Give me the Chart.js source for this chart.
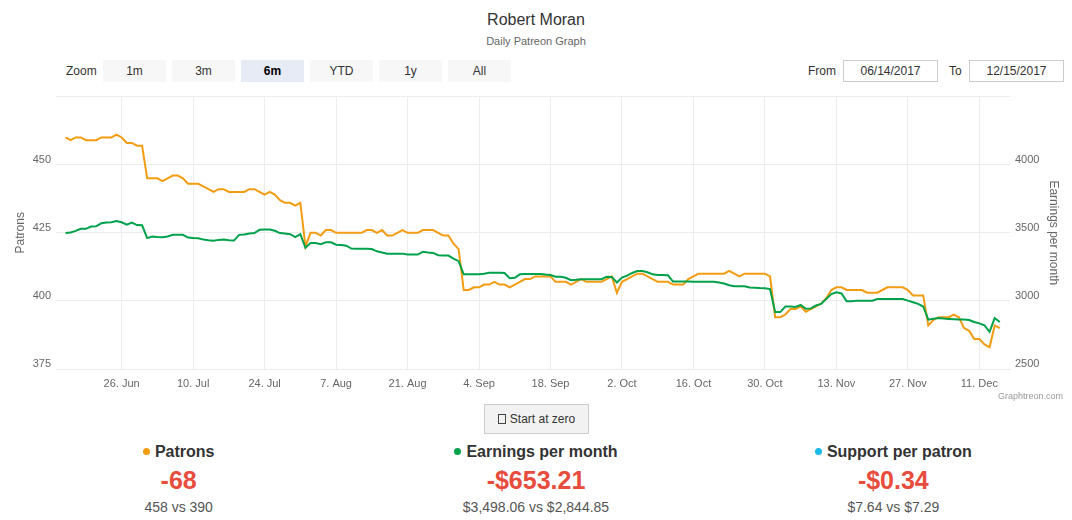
<!DOCTYPE html>
<html>
<head>
<meta charset="utf-8">
<script src="https://cdn.jsdelivr.net/npm/chart.js"></script>
<style>
  body { margin: 0; width: 1072px; height: 520px; background: #fff; font-family: 'Liberation Sans', Arial, sans-serif; position: relative; overflow: hidden; }
  .abs { position: absolute; }
  #title { left: 0; width: 1072px; top: 10px; line-height: 20px; text-align: center; font-size: 16px; color: #333; }
  #subtitle { left: 0; width: 1072px; top: 33px; line-height: 16px; text-align: center; font-size: 11px; color: #666; }
  .lbl { top: 60px; line-height: 22px; font-size: 12px; color: #333; }
  .btn { top: 60px; width: 63px; height: 22px; line-height: 22px; text-align: center; font-size: 12px; color: #333; background: #f7f7f7; }
  .btn.sel { background: #e6ebf5; font-weight: bold; color: #000; }
  .inp { top: 60px; width: 93px; height: 20px; line-height: 20px; border: 1px solid #ccc; text-align: center; font-size: 12px; color: #333; }
  #wrap { left: 0; top: 85px; width: 1072px; height: 315px; }
  #credit { left: 990px; width: 73px; top: 390px; line-height: 12px; text-align: right; font-size: 9px; color: #999; }
  #zero { left: 484px; top: 404px; width: 103px; height: 28px; line-height: 28px; border: 1px solid #ccc; background: #f2f2f2; text-align: center; font-size: 12px; color: #333; }
  #zero i { display: inline-block; width: 6px; height: 8px; border: 1px solid #444; vertical-align: -1px; margin-right: 4px; }
  .col { width: 357.33px; text-align: center; }
  .head { top: 442px; line-height: 20px; font-size: 16px; font-weight: bold; color: #333; }
  .head b { display: inline-block; width: 7px; height: 7px; border-radius: 50%; margin-right: 5px; vertical-align: 2px; }
  .big { top: 465px; line-height: 30px; font-size: 25px; font-weight: bold; color: #e74c3c; }
  .sub { top: 497px; line-height: 20px; font-size: 14px; color: #555; }
</style>
</head>
<body>
<div id="title" class="abs">Robert Moran</div>
<div id="subtitle" class="abs">Daily Patreon Graph</div>

<div class="abs lbl" style="left:66px">Zoom</div>
<div class="abs btn" style="left:103px">1m</div>
<div class="abs btn" style="left:172px">3m</div>
<div class="abs btn sel" style="left:241px">6m</div>
<div class="abs btn" style="left:310px">YTD</div>
<div class="abs btn" style="left:379px">1y</div>
<div class="abs btn" style="left:448px">All</div>
<div class="abs lbl" style="left:808px">From</div>
<div class="abs inp" style="left:843px">06/14/2017</div>
<div class="abs lbl" style="left:949px">To</div>
<div class="abs inp" style="left:969px">12/15/2017</div>

<div id="wrap" class="abs"><canvas id="chart"></canvas></div>
<div id="credit" class="abs">Graphtreon.com</div>
<div id="zero" class="abs"><i></i>Start at zero</div>

<div class="abs col head" style="left:0px"><b style="background:#f39c12"></b>Patrons</div>
<div class="abs col big" style="left:0px">-68</div>
<div class="abs col sub" style="left:0px">458 vs 390</div>
<div class="abs col head" style="left:357.33px"><b style="background:#00a14b"></b>Earnings per month</div>
<div class="abs col big" style="left:357.33px">-$653.21</div>
<div class="abs col sub" style="left:357.33px">$3,498.06 vs $2,844.85</div>
<div class="abs col head" style="left:714.67px"><b style="background:#1ab9e9"></b>Support per patron</div>
<div class="abs col big" style="left:714.67px">-$0.34</div>
<div class="abs col sub" style="left:714.67px">$7.64 vs $7.29</div>

<script>
// days counted from 14 Jun 2017; first data point is 15 Jun (day 1)
const firstDay = 1;

const patrons = [
  460, 459, 460, 460, 459, 459, 459, 460, 460, 460,
  461, 460, 458, 458, 457, 457, 445, 445, 445, 444,
  445, 446, 446, 445, 443, 443, 443, 442, 441, 440,
  441, 441, 440, 440, 440, 440, 441, 441, 440, 439,
  440, 439, 437, 436, 436, 435, 436, 420, 425, 425,
  424, 426, 426, 425, 425, 425, 425, 425, 425, 426,
  426, 425, 426, 424, 424, 425, 426, 425, 425, 425,
  426, 426, 426, 425, 424, 424, 421, 419, 404, 404,
  405, 405, 406, 406, 407, 406, 406, 405, 406, 407,
  408, 408, 409, 409, 409, 409, 407, 407, 407, 406,
  407, 408, 407, 407, 407, 407, 408, 409, 403, 407,
  408, 409, 410, 410, 409, 408, 407, 407, 407, 406,
  406, 406, 408, 409, 410, 410, 410, 410, 410, 410,
  411, 410, 409, 410, 410, 410, 410, 410, 409, 394,
  394, 395, 397, 397, 398, 396, 397, 398, 399, 401,
  404, 405, 405, 404, 404, 404, 404, 403, 403, 403,
  404, 405, 405, 405, 405, 404, 402, 402, 402, 391,
  393, 394, 394, 394, 395, 394, 390, 389, 386, 386,
  384, 383, 391, 390
];

const earnings = [
  3498, 3502, 3514, 3529, 3529, 3546, 3548, 3570, 3575, 3577,
  3587, 3577, 3560, 3575, 3557, 3555, 3461, 3473, 3470, 3468,
  3473, 3485, 3485, 3485, 3465, 3461, 3460, 3450, 3445, 3442,
  3448, 3451, 3445, 3443, 3485, 3488, 3495, 3498, 3522, 3524,
  3524, 3515, 3498, 3495, 3490, 3468, 3490, 3390, 3425, 3425,
  3417, 3430, 3430, 3413, 3410, 3405, 3384, 3383, 3382, 3382,
  3381, 3364, 3355, 3347, 3347, 3347, 3347, 3340, 3340, 3340,
  3360, 3355, 3352, 3335, 3333, 3333, 3311, 3292, 3195, 3195,
  3195, 3195, 3200, 3207, 3207, 3207, 3205, 3166, 3170, 3195,
  3197, 3197, 3197, 3197, 3193, 3190, 3178, 3178, 3170, 3152,
  3155, 3159, 3159, 3159, 3159, 3159, 3178, 3176, 3135, 3171,
  3185, 3205, 3219, 3219, 3210, 3195, 3190, 3190, 3188, 3142,
  3142, 3142, 3142, 3140, 3140, 3140, 3140, 3140, 3135, 3128,
  3115, 3108, 3108, 3108, 3099, 3097, 3094, 3092, 3087, 2918,
  2918, 2959, 2959, 2955, 2971, 2942, 2945, 2966, 2978, 3014,
  3050, 3063, 3055, 2997, 2997, 3002, 3002, 3002, 3002, 3014,
  3014, 3014, 3014, 3014, 3014, 3002, 2990, 2978, 2959, 2862,
  2869, 2874, 2870, 2868, 2866, 2864, 2864, 2860, 2845, 2835,
  2820, 2773, 2874, 2845
];

const xTickDays = [12, 26, 40, 54, 68, 82, 96, 110, 124, 138, 152, 166, 180];
const xTickLabels = ['26. Jun', '10. Jul', '24. Jul', '7. Aug', '21. Aug', '4. Sep', '18. Sep',
                     '2. Oct', '16. Oct', '30. Oct', '13. Nov', '27. Nov', '11. Dec'];

const gridColor = '#ececec';
const tickFont = { size: 11 };

Chart.defaults.font.family = "'Liberation Sans', Arial, sans-serif";
Chart.defaults.color = '#666';

function toPoints(values) {
  return values.map((v, i) => ({ x: firstDay + i, y: v }));
}

new Chart(document.getElementById('chart'), {
  type: 'line',
  data: {
    datasets: [{
      label: 'Patrons',
      data: toPoints(patrons),
      yAxisID: 'y',
      borderColor: '#f39c12',
      borderWidth: 2,
      pointRadius: 0,
      order: 2
    }, {
      label: 'Earnings per month',
      data: toPoints(earnings),
      yAxisID: 'y1',
      borderColor: '#00a14b',
      borderWidth: 2,
      pointRadius: 0,
      order: 1
    }]
  },
  options: {
    responsive: true,
    maintainAspectRatio: false,
    animation: false,
    layout: { padding: { top: 6 } },
    plugins: { legend: { display: false }, tooltip: { enabled: false } },
    scales: {
      x: {
        type: 'linear',
        min: -0.86,
        max: 186,
        afterBuildTicks: s => { s.ticks = xTickDays.map(v => ({ value: v })); },
        afterFit: s => { s.height = 31; },
        ticks: {
          autoSkip: false,
          maxRotation: 0,
          padding: 8,
          font: tickFont,
          callback: v => xTickLabels[xTickDays.indexOf(v)]
        },
        grid: { color: gridColor, drawTicks: false },
        border: { color: gridColor }
      },
      y: {
        position: 'left',
        min: 375,
        max: 475,
        afterFit: s => { s.width = 56; },
        ticks: {
          stepSize: 25,
          padding: 5,
          labelOffset: -5,
          font: tickFont,
          callback: v => v === 475 ? '' : v
        },
        grid: { color: gridColor, drawTicks: false },
        border: { display: false },
        title: { display: true, text: 'Patrons', font: { size: 12 }, color: '#666', padding: { top: 13, bottom: 0 } }
      },
      y1: {
        position: 'right',
        min: 2500,
        max: 4500,
        afterFit: s => { s.width = 62; },
        ticks: {
          stepSize: 500,
          padding: 5,
          labelOffset: -5,
          font: tickFont,
          callback: v => v === 4500 ? '' : v
        },
        grid: { display: false, drawTicks: false },
        border: { display: false },
        title: { display: true, text: 'Earnings per month', font: { size: 12 }, color: '#666', padding: { top: 11, bottom: 0 } }
      }
    }
  }
});
</script>
</body>
</html>
